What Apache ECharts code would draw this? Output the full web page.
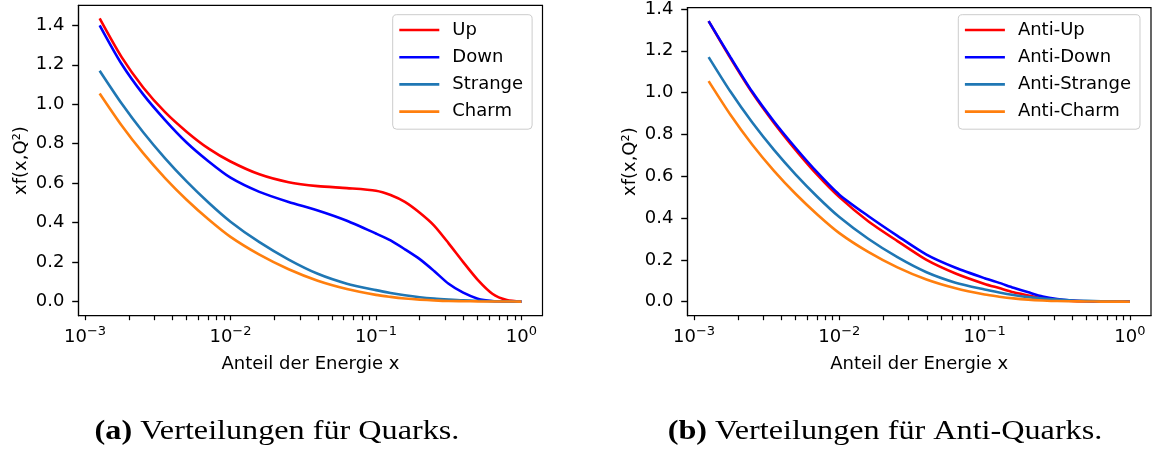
<!DOCTYPE html>
<html>
<head>
<meta charset="utf-8">
<script src="https://cdn.jsdelivr.net/npm/echarts@6/dist/echarts.min.js"></script>
<style>
  html, body { margin: 0; padding: 0; background: #fff; }
  #chart { width: 1153px; height: 455px; }
</style>
</head>
<body>
<div id="chart"></div>
<script>
// Anteil der Energie x (gleiche Stuetzstellen fuer alle Kurven)
const xs = [0.00126, 0.00178, 0.00251, 0.00355, 0.00501, 0.00708, 0.01, 0.0158, 0.0251, 0.0398, 0.0631,
  0.1, 0.126, 0.158, 0.2, 0.251, 0.316, 0.398, 0.501, 0.631, 0.794, 1.0];

// (a) Quarks
const up      = [1.435, 1.24, 1.085, 0.96, 0.86, 0.775, 0.71, 0.645, 0.605, 0.585, 0.575, 0.562, 0.54, 0.505, 0.45, 0.385, 0.295, 0.20, 0.11, 0.04, 0.008, 0];
const down    = [1.40, 1.205, 1.05, 0.92, 0.805, 0.71, 0.628, 0.556, 0.505, 0.462, 0.41, 0.345, 0.31, 0.265, 0.215, 0.155, 0.09, 0.045, 0.015, 0.003, 0.0005, 0];
const strange = [1.17, 1.005, 0.858, 0.726, 0.608, 0.501, 0.405, 0.301, 0.213, 0.141, 0.091, 0.058, 0.044, 0.032, 0.022, 0.015, 0.01, 0.006, 0.004, 0.002, 0.001, 0];
const charm   = [1.055, 0.894, 0.752, 0.626, 0.515, 0.416, 0.328, 0.238, 0.164, 0.106, 0.064, 0.034, 0.024, 0.016, 0.01, 0.006, 0.003, 0.002, 0.001, 0.0005, 0.0002, 0];

// (b) Anti-Quarks
const antiUp      = [1.342, 1.165, 1.0, 0.855, 0.725, 0.605, 0.50, 0.385, 0.29, 0.20, 0.135, 0.085, 0.065, 0.045, 0.03, 0.016, 0.009, 0.004, 0.002, 0.0005, 0.0002, 0];
const antiDown    = [1.342, 1.17, 1.005, 0.862, 0.735, 0.617, 0.512, 0.41, 0.315, 0.225, 0.162, 0.112, 0.09, 0.067, 0.045, 0.025, 0.013, 0.006, 0.002, 0.001, 0.0002, 0];
const antiStrange = [1.17, 1.005, 0.858, 0.726, 0.608, 0.501, 0.405, 0.301, 0.213, 0.141, 0.091, 0.058, 0.044, 0.032, 0.022, 0.015, 0.01, 0.006, 0.004, 0.002, 0.001, 0];
const antiCharm   = [1.055, 0.894, 0.752, 0.626, 0.515, 0.416, 0.328, 0.238, 0.164, 0.106, 0.064, 0.034, 0.024, 0.016, 0.01, 0.006, 0.003, 0.002, 0.001, 0.0005, 0.0002, 0];

const yTicks = [0, 0.2, 0.4, 0.6, 0.8, 1.0, 1.2, 1.4];
const xDecades = [-3, -2, -1, 0];
const namesA = ['Up', 'Down', 'Strange', 'Charm'];
const namesB = ['Anti-Up', 'Anti-Down', 'Anti-Strange', 'Anti-Charm'];
const colors = ['#ff0000', '#0000ff', '#1f77b4', '#ff7f0e'];

const FONT = 'DejaVu Sans';
const XMIN = -3.045, XMAX = 0.145;
const yRanges = [[-0.0715, 1.5015], [-0.067, 1.407]];

// Haupt- und Nebenticks 1..9 * 10^n auf der log-Achse
const xTicks = [];
for (let n = -4; n <= 0; n++) {
  for (let k = 1; k <= 9; k++) {
    const v = Math.log10(k) + n;
    if (v > XMIN && v < XMAX) xTicks.push(v);
  }
}

const chart = echarts.init(document.getElementById('chart'), null, {renderer: 'canvas'});

function xAxis(gridIndex) {
  return {
    type: 'value', gridIndex: gridIndex, min: XMIN, max: XMAX, position: 'bottom',
    splitLine: {show: false},
    axisLine: {onZero: false, lineStyle: {color: '#000', width: 1.2}},
    name: 'Anteil der Energie x',
    nameLocation: 'middle',
    nameGap: 40,
    nameTextStyle: {fontFamily: FONT, fontSize: 18, color: '#000'},
    axisTick: {length: 4.5, lineStyle: {color: '#000', width: 1.2}, customValues: xTicks},
    axisLabel: {
      margin: 9,
      customValues: xDecades,
      formatter: (v) => '{a|10}{s|' + (v < 0 ? '\u2212' + (-v) : v) + '}',
      rich: {
        a: {fontFamily: FONT, fontSize: 18, color: '#000', verticalAlign: 'bottom'},
        s: {fontFamily: FONT, fontSize: 13, color: '#000', verticalAlign: 'bottom', padding: [0, 0, 9, 0]}
      }
    }
  };
}

function yAxis(gridIndex) {
  return {
    type: 'value', gridIndex: gridIndex, min: yRanges[gridIndex][0], max: yRanges[gridIndex][1],
    position: 'left',
    name: 'xf(x,Q\u00b2)',
    nameLocation: 'middle',
    nameGap: 48,
    nameTextStyle: {fontFamily: FONT, fontSize: 18, color: '#000'},
    splitLine: {show: false},
    axisLine: {show: true, onZero: false, lineStyle: {color: '#000', width: 1.2}},
    axisTick: {show: true, length: 6.3, lineStyle: {color: '#000', width: 1.4}, customValues: yTicks},
    axisLabel: {
      margin: 14, fontFamily: FONT, fontSize: 18, color: '#000',
      customValues: yTicks,
      formatter: (v) => v.toFixed(1)
    }
  };
}

function line(name, ys, color, idx) {
  return {
    name: name, type: 'line',
    xAxisIndex: idx, yAxisIndex: idx,
    showSymbol: false, symbol: 'none',
    smooth: 0.25,
    lineStyle: {color: color, width: 2.6},
    itemStyle: {color: color},
    data: xs.map((x, i) => [Math.log10(x), ys[i]])
  };
}

function legend(names, left) {
  return {
    data: names, orient: 'vertical', left: left, top: 14.7,
    icon: 'rect',
    itemWidth: 40, itemHeight: 2.6, itemGap: 9.2,
    padding: [6.3, 9, 8.6, 6.6],
    backgroundColor: 'rgba(255,255,255,0.8)',
    borderColor: '#cccccc', borderWidth: 1, borderRadius: 4,
    textStyle: {fontFamily: FONT, fontSize: 18, color: '#000', lineHeight: 18, padding: [0, 0, 0, 8]}
  };
}

function caption(label, text, cx) {
  return {
    type: 'text', x: cx, y: 432, scaleX: 1.15, originX: 0,
    style: {
      text: '{b|' + label + '} ' + text,
      font: '28px "Liberation Serif"', fill: '#000',
      align: 'center', verticalAlign: 'middle',
      rich: {b: {fontFamily: 'Liberation Serif', fontSize: 28, fontWeight: 'bold'}}
    }
  };
}

chart.setOption({
  animation: false,
  backgroundColor: '#fff',
  grid: [
    {left: 78.5, top: 5.3, width: 464, height: 310.4, show: true, borderColor: '#000', borderWidth: 1.2},
    {left: 687.5, top: 5.3, width: 463.5, height: 310.4, show: true, borderColor: '#000', borderWidth: 1.2}
  ],
  xAxis: [xAxis(0), xAxis(1)],
  yAxis: [yAxis(0), yAxis(1)],
  legend: [legend(namesA, 392.7), legend(namesB, 958.3)],
  series: [
    line(namesA[0], up, colors[0], 0),
    line(namesA[1], down, colors[1], 0),
    line(namesA[2], strange, colors[2], 0),
    line(namesA[3], charm, colors[3], 0),
    line(namesB[0], antiUp, colors[0], 1),
    line(namesB[1], antiDown, colors[1], 1),
    line(namesB[2], antiStrange, colors[2], 1),
    line(namesB[3], antiCharm, colors[3], 1)
  ],
  graphic: [
    caption('(a)', 'Verteilungen f\u00fcr Quarks.', 277),
    caption('(b)', 'Verteilungen f\u00fcr Anti-Quarks.', 885)
  ]
});
</script>
</body>
</html>
